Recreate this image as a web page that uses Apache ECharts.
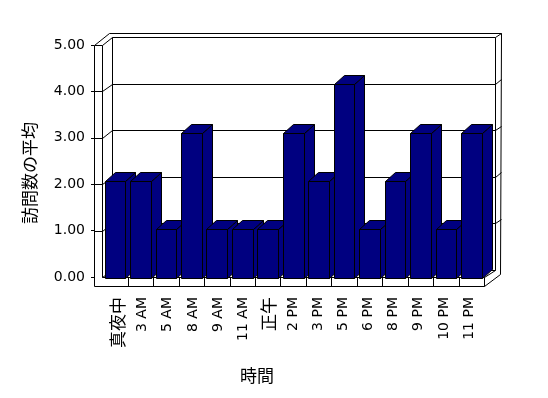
<!DOCTYPE html>
<html><head><meta charset="utf-8">
<script src="https://cdn.jsdelivr.net/npm/echarts@6/dist/echarts.min.js"></script>
<style>html,body{margin:0;padding:0;background:#fff}#c{width:548px;height:398px}</style>
</head><body><div id="c"></div>
<script>
// ---- data ----
const categories = ['真夜中','3 AM','5 AM','8 AM','9 AM','11 AM','正午','2 PM','3 PM','5 PM','6 PM','8 PM','9 PM','10 PM','11 PM'];
const visits = [2, 2, 1, 3, 1, 1, 1, 3, 2, 4, 1, 2, 3, 1, 3];
const yTicks = [0, 1, 2, 3, 4, 5];
const xTitle = '時間';
const yTitle = '訪問数の平均';

// ---- style ----
const NAVY = '#000080';
const LATIN = 'DejaVu Sans';
const CJK = 'Noto Sans CJK JP';
const yMin = yTicks[0], yMax = yTicks[yTicks.length - 1], yStep = yTicks[1] - yTicks[0];

const chart = echarts.init(document.getElementById('c'), null, {renderer: 'canvas'});

const hidden = {show: false};
const catAxis = (grid, extra) => Object.assign({type: 'category', gridIndex: grid, data: categories,
  axisLine: hidden, axisTick: hidden, axisLabel: hidden, splitLine: hidden}, extra || {});
const valAxis = (grid, extra) => Object.assign({type: 'value', gridIndex: grid, min: yMin, max: yMax, interval: yStep,
  axisLine: hidden, axisTick: hidden, axisLabel: hidden, splitLine: hidden}, extra || {});
const unitAxis = (grid) => ({type: 'value', gridIndex: grid, min: 0, max: 1, show: false, splitLine: hidden});

chart.setOption({
  animation: false,
  backgroundColor: '#fff',
  grid: [
    {left: 105, right: 66.4, top: 45, bottom: 121},      // 0: category labels
    {left: 94, right: 60, top: 45, bottom: 121},         // 1: value labels (front plane)
    {left: 102.2, right: 63.8, top: 35.7, bottom: 120.3},// 2: bars
    {left: 112, right: 53, top: 37, bottom: 128.5}       // 3: back wall
  ],
  xAxis: [
    catAxis(0, {axisLabel: {show: true, rotate: 90, margin: 20, interval: 0, color: '#000',
      fontFamily: LATIN, fontSize: 14,
      formatter: v => /[^\x00-\x7F]/.test(v) ? '{c|' + v + '}' : v,
      rich: {c: {fontFamily: CJK, fontSize: 17, color: '#000'}}}}),
    unitAxis(1),
    catAxis(2),
    unitAxis(3)
  ],
  yAxis: [
    valAxis(0),
    valAxis(1, {axisTick: {show: true, length: 3, lineStyle: {color: '#000'}},
      axisLabel: {show: true, margin: 9, color: '#000', fontFamily: LATIN, fontSize: 14,
        formatter: v => v.toFixed(2)}}),
    valAxis(2),
    valAxis(3)
  ],
  graphic: [
    {type: 'text', left: 240, top: 367, silent: true,
      style: {text: xTitle, fontFamily: CJK, fontSize: 17, fill: '#000'}},
    {type: 'text', x: 30, y: 173, rotation: Math.PI / 2, silent: true,
      style: {text: yTitle, fontFamily: CJK, fontSize: 17, fill: '#000', align: 'center', verticalAlign: 'middle'}}
  ],
  series: [{
    type: 'custom', xAxisIndex: 2, yAxisIndex: 2, z: 10,
    data: visits.map((v, i) => [i, v]),
    encode: {x: 0, y: 1},
    renderItem: function (params, api) {
      const i = api.value(0), v = api.value(1);
      const base = api.coord([i, yMin]);
      const top = api.coord([i, v]);
      const band = api.size([1, 0])[0];
      const w = band * 0.81;
      const x0 = Math.round(top[0] - w / 2) + 0.5, x1 = Math.round(top[0] + w / 2) + 0.5;
      const yT = Math.round(top[1]) + 0.5, yB = Math.round(base[1]) + 0.5;
      const dx = 10, dy = -9;
      const style = {fill: NAVY, stroke: '#000', lineWidth: 1};
      return {type: 'group', children: [
        {type: 'polygon', shape: {points: [[x1, yB], [x1 + dx, yB + dy], [x1 + dx, yT + dy], [x1, yT]]}, style: style},
        {type: 'polygon', shape: {points: [[x0, yT], [x1, yT], [x1 + dx, yT + dy], [x0 + dx, yT + dy]]}, style: style},
        {type: 'rect', shape: {x: x0, y: yT, width: x1 - x0, height: yB - yT}, style: style}
      ]};
    }
  }]
});

// ---- walls & floor, positioned through the axes ----
(function () {
  const c = (g, x, y) => chart.convertToPixel({gridIndex: g}, [x, y]);
  const n = categories.length;
  const p0 = c(2, 0, 0), p1 = c(2, 1, 0);
  const band = p1[0] - p0[0];
  const X0 = p0[0] - band / 2, X1 = c(2, n - 1, 0)[0] + band / 2;
  const yF = v => c(1, 0, v)[1];
  const OX = c(1, 0, 0)[0];
  const Y0 = yF(yMin), Y5 = yF(yMax);
  const BX0 = c(3, 0, 0)[0], BX1 = c(3, 1, 0)[0];
  const yB = v => c(3, 0, v)[1];
  const BY0 = yB(yMin), BY5 = yB(yMax);
  const FT = 9;               // floor thickness
  const Tx = 5.5, Ty = -4.5;  // back wall thickness
  const Dx = BX0 - X0, Dy = BY5 - Y5;
  const s = v => Math.round(v) + 0.5;
  const line = (pts, closed, fill) => ({type: closed ? 'polygon' : 'polyline', silent: true, z: 0,
    shape: {points: pts.map(p => [s(p[0]), s(p[1])])},
    style: {stroke: '#000', lineWidth: 1, fill: fill || (closed ? '#fff' : null)}});
  const els = [];
  els.push(line([[OX, Y5], [OX + Dx + Tx, Y5 + Dy + Ty], [BX1 + Tx, BY5 + Ty],
    [X1 + Dx + Tx, Y0 + FT + (BY0 - Y0) + Ty], [X1, Y0 + FT], [OX, Y0 + FT]], true));
  els.push(line([[BX0, BY5], [BX1, BY5], [BX1, BY0], [BX0, BY0]], true));
  els.push(line([[OX, Y5], [X0, Y5], [BX0, BY5]]));
  els.push(line([[X0, Y5], [X0, Y0]]));
  els.push(line([[BX1, BY5], [BX1 + Tx, BY5 + Ty]]));
  els.push(line([[BX0, BY0], [X0, Y0], [X1, Y0], [BX1, BY0]]));
  els.push(line([[X1, Y0], [X1, Y0 + FT]]));
  for (let k = 1; k < n; k++) {
    const x = X0 + k * band;
    els.push(line([[x, Y0], [x, Y0 + FT]]));
  }
  yTicks.forEach(v => {
    if (v === yMin || v === yMax) return;
    els.push(line([[OX, yF(v)], [X0, yF(v)], [BX0, yB(v)], [BX1, yB(v)], [BX1 + Tx, yB(v) + Ty]]));
  });
  const opt = chart.getOption();
  chart.setOption({graphic: opt.graphic[0].elements.concat(els)});
})();
</script>
</body></html>
